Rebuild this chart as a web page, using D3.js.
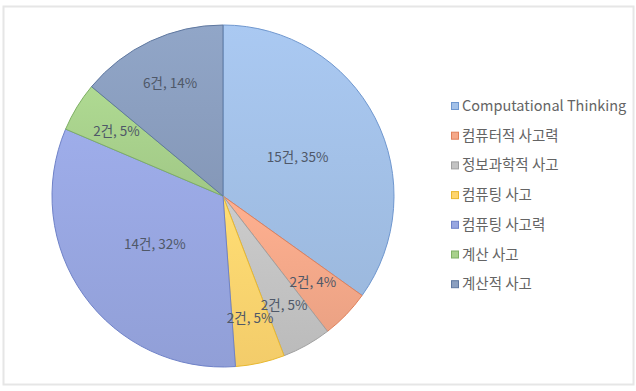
<!DOCTYPE html>
<html>
<head>
<meta charset="utf-8">
<script src="https://cdn.jsdelivr.net/npm/d3@7"></script>
<style>
  body { margin: 0; background: #fff; }
  svg { display: block; }
</style>
</head>
<body>
<div id="chart"></div>
<script>
// data
const categories = ["Computational Thinking", "컴퓨터적 사고력", "정보과학적 사고", "컴퓨팅 사고", "컴퓨팅 사고력", "계산 사고", "계산적 사고"];
const counts = [15, 2, 2, 2, 14, 2, 6];
const percentLabels = ["35%", "4%", "5%", "5%", "32%", "5%", "14%"];

const fills = ["#a3c1e8", "#f5a98a", "#c3c3c3", "#fed56f", "#97a6e0", "#a8d18c", "#8b9fc0"];
const strokes = ["#6f97cf", "#e0805a", "#a0a0a0", "#e8b830", "#6f82c8", "#7fb065", "#5f78a0"];

const width = 636, height = 391;
const cx = 223, cy = 196, r = 171;

const svg = d3.select("#chart").append("svg")
  .attr("width", width)
  .attr("height", height);

// frame
svg.append("rect")
  .attr("x", 3.5).attr("y", 6.5)
  .attr("width", 630).attr("height", 378)
  .attr("fill", "#fff")
  .attr("stroke", "#e6e6e6")
  .attr("stroke-width", 2);

const defs = svg.append("defs");
fills.forEach(function(c, i) {
  const g = defs.append("linearGradient")
    .attr("id", "grad" + i)
    .attr("x1", 0).attr("y1", 0).attr("x2", 0).attr("y2", 1);
  g.append("stop").attr("offset", "0%").attr("stop-color", d3.color(c).brighter(0.12));
  g.append("stop").attr("offset", "100%").attr("stop-color", d3.color(c).darker(0.12));
});

const pie = d3.pie().sort(null).value(d => d);
const arcs = pie(counts);
const arc = d3.arc().innerRadius(0).outerRadius(r);

const g = svg.append("g").attr("transform", `translate(${cx},${cy})`);

g.selectAll("path")
  .data(arcs)
  .enter()
  .append("path")
  .attr("d", arc)
  .attr("fill", (d, i) => `url(#grad${i})`)
  .attr("stroke", (d, i) => strokes[i])
  .attr("stroke-width", 1);

// data labels: big slices nearer the middle, small ones out toward the rim
g.selectAll("text")
  .data(arcs)
  .enter()
  .append("text")
  .attr("transform", function(d) {
    const share = (d.endAngle - d.startAngle) / (2 * Math.PI);
    const lr = share > 0.2 ? r * 0.49 : r * 0.73;
    const c = d3.arc().innerRadius(lr).outerRadius(lr).centroid(d);
    return `translate(${c[0]},${c[1]})`;
  })
  .attr("text-anchor", "middle")
  .attr("dy", "0.35em")
  .attr("font-family", "'Noto Sans CJK KR', 'Noto Sans', sans-serif")
  .attr("font-size", 13.5)
  .attr("fill", "#4f5868")
  .text((d, i) => counts[i] + "건, " + percentLabels[i]);

// legend
const legend = svg.append("g").attr("transform", "translate(451,106)");
const rows = legend.selectAll("g")
  .data(categories)
  .enter()
  .append("g")
  .attr("transform", (d, i) => `translate(0,${i * 29.7})`);

rows.append("rect")
  .attr("x", 0.5).attr("y", -3.5)
  .attr("width", 7).attr("height", 7)
  .attr("fill", (d, i) => fills[i])
  .attr("stroke", (d, i) => strokes[i])
  .attr("stroke-width", 1);

rows.append("text")
  .attr("x", 11)
  .attr("dy", "0.35em")
  .attr("font-family", "'Noto Sans CJK KR', 'Noto Sans', sans-serif")
  .attr("font-size", 14.5)
  .attr("fill", "#646464")
  .text(d => d);
</script>
</body>
</html>
